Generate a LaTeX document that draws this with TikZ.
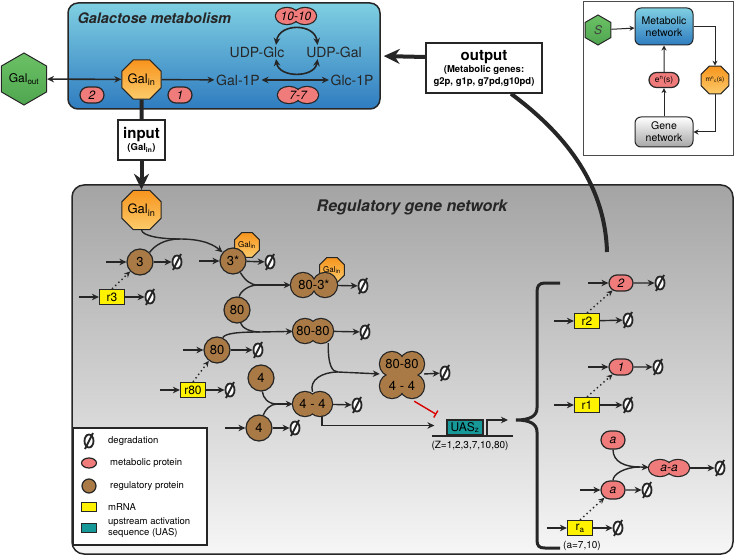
\documentclass[tikz,border=0pt]{standalone}
\usepackage{fontspec}
\setmainfont{TeX Gyre Heros}
\usetikzlibrary{positioning,shapes.geometric,shapes.misc,arrows.meta}
\definecolor{ink}{HTML}{262626}
\definecolor{regbrown}{HTML}{A97A45}
\definecolor{metpink}{HTML}{EF7B7B}
\definecolor{mrnayel}{HTML}{FFF200}
\definecolor{uasteal}{HTML}{17999A}
\definecolor{galdark}{HTML}{F7941D}
\definecolor{gallight}{HTML}{FCCB6A}
\definecolor{hexdark}{HTML}{4FA64F}
\definecolor{hexlight}{HTML}{6CC165}
\definecolor{bluetop}{HTML}{7FCFE2}
\definecolor{bluemid}{HTML}{2AAFE8}
\definecolor{bluebot}{HTML}{2F7CC0}
\definecolor{greytop}{HTML}{A4A4A4}
\definecolor{greybot}{HTML}{F6F6F6}

\begin{document}
\begin{tikzpicture}[x=1pt,y=-1pt,
    arr/.style={-{Stealth[length=7pt,width=6.5pt]},line width=1.4pt,draw=ink},
    darr/.style={{Stealth[length=7pt,width=6.5pt]}-{Stealth[length=7pt,width=6.5pt]},line width=1.6pt,draw=ink},
    bigarr/.style={-{Stealth[length=16pt,width=15pt]},line width=4pt,draw=ink},
    dotarr/.style={-{Stealth[length=6pt,width=5.5pt]},line width=1.4pt,dash pattern=on 1.4pt off 3pt,draw=ink},
    sarr/.style={-{Stealth[length=5pt,width=5pt]},line width=1pt,draw=ink},
    deg/.style={ellipse,draw=ink,fill=white,line width=1.8pt,minimum width=9pt,minimum height=13pt,inner sep=0pt},
    degslash/.style={ink,line width=1.8pt},
    reg/.style={circle,draw=ink,line width=1.2pt,fill=regbrown,minimum size=26pt,inner sep=0pt,font=\fontsize{13}{13}\selectfont},
    met/.style={rounded rectangle,draw=ink,line width=1.2pt,fill=metpink,minimum width=24pt,minimum height=16pt,inner sep=0pt,font=\fontsize{12}{12}\selectfont\itshape},
    mrna/.style={rectangle,draw=ink,line width=1.2pt,fill=mrnayel,minimum width=25pt,minimum height=15pt,inner sep=0pt,font=\fontsize{12}{12}\selectfont},
    gal/.style={regular polygon,regular polygon sides=8,draw=ink,line width=1pt,top color=galdark,bottom color=gallight,minimum size=38pt,inner sep=0pt,font=\fontsize{13}{13}\selectfont},
    galsmall/.style={gal,minimum size=25pt,font=\fontsize{8}{8}\selectfont},
    dimer/.style={rectangle,inner sep=0pt,minimum height=24pt,font=\fontsize{13}{13}\selectfont},
    lbl/.style={inner sep=1.5pt,font=\fontsize{14}{14}\selectfont,text=ink},
    legtext/.style={anchor=west,inner sep=0pt,font=\fontsize{9.5}{11}\selectfont,align=left},
    boxtitle/.style={font=\fontsize{16}{16}\selectfont\bfseries\itshape,text=ink}]
    \useasboundingbox (0,0) rectangle (737,559);

    \node[draw=ink,line width=1.5pt,rounded corners=10pt,top color=bluetop,middle color=bluemid,bottom color=bluebot,minimum width=312pt,minimum height=106pt] (metab) at (224,56) {};
    \node[draw=ink,line width=1.5pt,rounded corners=12pt,top color=greytop,bottom color=greybot,minimum width=661pt,minimum height=369pt] (regbox) at (402.5,369.5) {};
    \node[boxtitle,anchor=west,font=\fontsize{14.5}{14.5}\selectfont\bfseries\itshape] (mtitle) at (74,18) {Galactose metabolism};
    \node[boxtitle] (rtitle) at (412,207) {Regulatory gene network};

    \node[regular polygon,regular polygon sides=6,shape border rotate=30,draw=ink,line width=1pt,top color=hexlight,bottom color=hexdark,minimum size=52pt,inner sep=0pt,font=\fontsize{12}{12}\selectfont] (galout) at (24,79) {Gal\textsubscript{out}};
    \node[gal] (galin) at (141.5,79.5) {Gal\textsubscript{in}};
    \node[lbl] (udpglc) at (257,52) {UDP-Glc};
    \node[lbl] (udpgal) at (334,52) {UDP-Gal};
    \node[lbl] (gal1p) at (238,80) {Gal-1P};
    \node[lbl] (glc1p) at (352,80) {Glc-1P};
    \node[met] (e2) at (92,95) {2};
    \node[met] (e1) at (180,95) {1};
    \foreach \cx/\cy in {287/16,305/16,289/95,307/95,660/468,678/468}
        \draw[ink,line width=2.4pt] (\cx,\cy) ellipse (11 and 8);
    \foreach \cx/\cy in {287/16,305/16,289/95,307/95,660/468,678/468}
        \fill[metpink] (\cx,\cy) ellipse (11 and 8);
    \node[dimer,minimum width=42pt,minimum height=16pt,font=\fontsize{12}{12}\selectfont\itshape] (e10) at (296,16) {10-10};
    \node[dimer,minimum width=42pt,minimum height=16pt,font=\fontsize{12}{12}\selectfont\itshape] (e7) at (298,95) {7-7};
    \draw[darr] (galout) -- (galin);
    \draw[arr] (galin) -- (gal1p);
    \draw[darr] (gal1p) -- (glc1p);
    \draw[darr] ([xshift=-10pt]udpglc.north east) .. controls +(3,-22) and +(-3,-22) .. ([xshift=13pt]udpgal.north west);
    \draw[darr] ([xshift=-10pt]udpglc.south east) .. controls +(3,19) and +(-3,19) .. ([xshift=13pt]udpgal.south west);

    \node[draw=ink,line width=1.5pt,fill=white,minimum width=116pt,minimum height=50pt,align=center,inner sep=0pt,font=\bfseries] (outbox) at (484,68)
        {{\fontsize{15}{17}\selectfont output}\\{\fontsize{9.5}{11}\selectfont (Metabolic genes:}\\{\fontsize{9.5}{11}\selectfont g2p, g1p, g7pd,g10pd)}};
    \draw[bigarr,shorten >=3pt] ([yshift=11pt]outbox.west) -- ([yshift=0pt]metab.east);
    \coordinate (outend) at (607,252);
    \draw[line width=4pt,draw=ink] ([xshift=27pt]outbox.south) .. controls (560,130) and (605,180) .. (outend);
    \node[draw=ink,line width=1.5pt,fill=white,minimum width=47pt,minimum height=40pt,align=center,inner sep=0pt,font=\bfseries] (inbox) at (141.5,140)
        {{\fontsize{15}{17}\selectfont input}\\{\fontsize{9.5}{11}\selectfont (Gal\textsubscript{in})}};
    \draw[line width=4pt,draw=ink] (galin) -- (inbox);
    \node[gal] (galreg) at (141.5,210) {Gal\textsubscript{in}};
    \draw[bigarr] (inbox) -- (galreg);

    \node[galsmall] (gs1) at (247,245) {Gal\textsubscript{in}};
    \node[galsmall] (gs2) at (332,270) {Gal\textsubscript{in}};
    \node[reg] (n3) at (140,262) {3};
    \node[reg] (n3s) at (233,261) {3*};
    \node[mrna] (r3) at (112,297) {r3};
    \node[reg] (n80) at (237,310) {80};
    \node[reg] (n80b) at (217,350) {80};
    \node[mrna] (r80) at (193,390) {r80};
    \node[reg] (n4a) at (261,378) {4};
    \node[reg] (n4b) at (259,428) {4};
    \foreach \cx/\cy in {303/285,325/285,305/331,321/331,305/404,320/404,392/364,412/364,392/386,412/386}
        \draw[ink,line width=2.4pt] (\cx,\cy) circle (12);
    \foreach \cx/\cy in {303/285,325/285,305/331,321/331,305/404,320/404,392/364,412/364,392/386,412/386}
        \fill[regbrown] (\cx,\cy) circle (12);
    \fill[regbrown] (392,364) rectangle (412,386);
    \node[dimer,minimum width=46pt] (d803) at (314,285) {80-3*};
    \node[dimer,minimum width=40pt] (d8080) at (313,331) {80-80};
    \node[dimer,minimum width=39pt] (d44) at (312.5,404) {4 - 4};
    \node[dimer,minimum width=44pt,minimum height=46pt,align=center,font=\fontsize{13}{22}\selectfont] (quad) at (402,375) {80-80\\4 - 4};

    \coordinate (m3) at (180,239);
    \coordinate (m803) at (258,285);
    \coordinate (m8080) at (260,332);
    \coordinate (m44) at (277,404);
    \coordinate (mq) at (338,372);
    \draw[line width=1.4pt,draw=ink] (galreg.south) .. controls (143,236) and (160,239) .. (m3);
    \draw[line width=1.4pt,draw=ink] (n3.north east) .. controls (155,245) and (165,239) .. (m3);
    \draw[arr] (m3) .. controls (205,239) and (215,246) .. (n3s);
    \draw[line width=1.4pt,draw=ink] (n3s) .. controls (245,280) and (250,285) .. (m803);
    \draw[line width=1.4pt,draw=ink] (n80) .. controls (240,292) and (248,285) .. (m803);
    \draw[arr] (m803) -- (d803);
    \draw[line width=1.4pt,draw=ink] (n80) .. controls (242,328) and (250,332) .. (m8080);
    \draw[line width=1.4pt,draw=ink] (n80b) .. controls (225,333) and (240,332) .. (m8080);
    \draw[arr] (m8080) -- (d8080);
    \draw[line width=1.4pt,draw=ink] (n4a) .. controls (263,398) and (268,404) .. (m44);
    \draw[line width=1.4pt,draw=ink] (n4b) .. controls (265,410) and (270,404) .. (m44);
    \draw[arr] (m44) -- (d44);
    \draw[line width=1.4pt,draw=ink] ([xshift=-5pt]d8080.south east) .. controls (328,365) and (332,372) .. (mq);
    \draw[line width=1.4pt,draw=ink] (d44.north) .. controls (309,380) and (322,372) .. (mq);
    \draw[arr] (mq) -- (quad);

    \node[draw=ink,line width=1.2pt,fill=uasteal,minimum width=36pt,minimum height=15pt,inner sep=0pt,font=\fontsize{12}{12}\selectfont] (uas) at (465,427.5) {UAS\textsubscript{z}};
    \coordinate (bl) at (432,436);
    \coordinate (br) at (513,436);
    \coordinate (tss) at (487,436);
    \coordinate (tssend) at (508,420);
    \draw[line width=2.5pt,draw=ink] (bl) -- (br);
    \draw[arr,line width=1.2pt] (tss) |- (tssend);
    \node[inner sep=0pt,font=\fontsize{10}{10}\selectfont] (uaslab) at (470,446) {(Z=1,2,3,7,10,80)};
    \draw[arr] ([xshift=9.5pt]d44.south) |- ([xshift=-12pt,yshift=2pt]uas.west);
    \draw[red!85!black,line width=1.4pt,-{Bar[width=8pt]}] ([xshift=-10pt,yshift=-3pt]quad.south east) -- ([xshift=-10pt,yshift=5pt]uas.north west);

    \draw[line width=3pt,draw=ink] (560,283) -- (545,283) .. controls (539,283) and (537,286) .. (537,292) -- (537,408)
        .. controls (537,416) and (530,420) .. (516,420) .. controls (530,420) and (537,424) .. (537,432)
        -- (537,540) .. controls (537,546) and (539,548) .. (545,548) -- (560,548);

    \node[met] (e2b) at (621,283) {2};
    \node[mrna] (r2) at (587,321) {r2};
    \node[met] (e1b) at (621,367) {1};
    \node[mrna] (r1) at (587,405) {r1};
    \node[met,minimum height=18pt] (ea1) at (613,440) {a};
    \node[met,minimum height=18pt] (ea2) at (613,490) {a};
    \node[dimer,minimum width=40pt,minimum height=16pt,font=\fontsize{12}{12}\selectfont\itshape] (eaa) at (669,468) {a-a};
    \node[mrna] (ra) at (580,528) {r\textsubscript{a}};
    \node[inner sep=0pt,font=\fontsize{10}{10}\selectfont] (ralab) at (582,546) {(a=7,10)};
    \coordinate (ma) at (640,467);
    \draw[line width=1.4pt,draw=ink] (ea1.south) .. controls (613,462) and (625,467) .. (ma);
    \draw[line width=1.4pt,draw=ink] (ea2.north) .. controls (613,474) and (625,467) .. (ma);
    \draw[arr] (ma) -- (eaa);

    \foreach \src/\dx/\dy in {n3/177/262,n3s/270/262,r3/150/297,d803/363/286,d8080/365/332,n80b/258/350,r80/230/390,d44/357/405,n4b/295/428,quad/445/373,e2b/660/283,r2/628/320,e1b/658/367,r1/628/405,ea2/647/490,eaa/720/468,ra/618/528}{
        \node[deg] (deg-\src) at (\dx,\dy) {};
        \draw[degslash] (deg-\src.center) ++(-4,8) -- ++(8,-16);
        \draw[arr] (\src) -- (deg-\src);
    }
    \foreach \src in {n3,n3s,r3,n80b,r80,n4b,e2b,r2,e1b,r1,ea2,ra}
        \draw[arr] ([xshift=-20pt]\src.west) -- (\src.west);
    \foreach \a/\b in {r3/n3,r80/n80b,r2/e2b,r1/e1b,ra/ea2}
        \draw[dotarr] (\a.north) -- (\b);

    \node[draw=ink,line width=1.2pt,fill=white,minimum width=134pt,minimum height=117pt] (legend) at (140,486.5) {};
    \node[deg] (ldeg) at (89,441) {};
    \draw[degslash] (ldeg.center) ++(-4,8) -- ++(8,-16);
    \node[ellipse,draw=ink,line width=1.2pt,fill=metpink,minimum width=15pt,minimum height=10pt,inner sep=0pt] (lmet) at (89,463) {};
    \node[circle,draw=ink,line width=1.2pt,fill=regbrown,minimum size=14pt,inner sep=0pt] (lreg) at (89,486) {};
    \node[draw=ink,line width=1.2pt,fill=mrnayel,minimum width=15pt,minimum height=9pt,inner sep=0pt] (lmrna) at (89,507) {};
    \node[draw=ink,line width=1.2pt,fill=uasteal,minimum width=15pt,minimum height=9pt,inner sep=0pt] (luas) at (89,528) {};
    \node[legtext] (tdeg) at (108,441) {degradation};
    \node[legtext] (tmet) at (110,463) {metabolic protein};
    \node[legtext] (treg) at (110,486) {regulatory protein};
    \node[legtext] (tmrna) at (108,507) {mRNA};
    \node[legtext] (tuas) at (108,528) {upstream activation\\sequence (UAS)};

    \node[draw=black!70,line width=1pt,fill=white,minimum width=150pt,minimum height=154pt] (inset) at (658,79) {};
    \node[regular polygon,regular polygon sides=6,shape border rotate=30,draw=ink,line width=1pt,top color=hexlight,bottom color=hexdark,minimum size=30pt,inner sep=0pt,font=\fontsize{12}{12}\selectfont\itshape,text=black!75] (sig) at (598,30) {S};
    \node[draw=ink,line width=1pt,rounded corners=6pt,top color=bluetop,middle color=bluemid,bottom color=bluebot,minimum width=58pt,minimum height=37pt,align=center,font=\fontsize{10.5}{12}\selectfont] (metnet) at (664,26.5) {Metabolic\\network};
    \node[draw=ink,line width=1pt,rounded corners=6pt,top color=white,bottom color=black!35,minimum width=58pt,minimum height=30pt,align=center,font=\fontsize{10.5}{12}\selectfont] (genenet) at (664,132) {Gene\\network};
    \node[met,minimum width=30pt,minimum height=15pt,font=\fontsize{8.5}{8.5}\selectfont] (epill) at (664,80) {e\textsuperscript{n}(s)};
    \node[gal,minimum size=30pt,font=\fontsize{6.5}{6.5}\selectfont] (moct) at (715,80) {m\textsuperscript{n}\textsubscript{c}(s)};
    \draw[sarr] (sig) -- (metnet);
    \draw[sarr] (metnet.east) -| (moct.north);
    \draw[sarr] (moct.south) |- (genenet.east);
    \draw[sarr] (genenet) -- (epill);
    \draw[sarr] (epill) -- (metnet);
\end{tikzpicture}
\end{document}
